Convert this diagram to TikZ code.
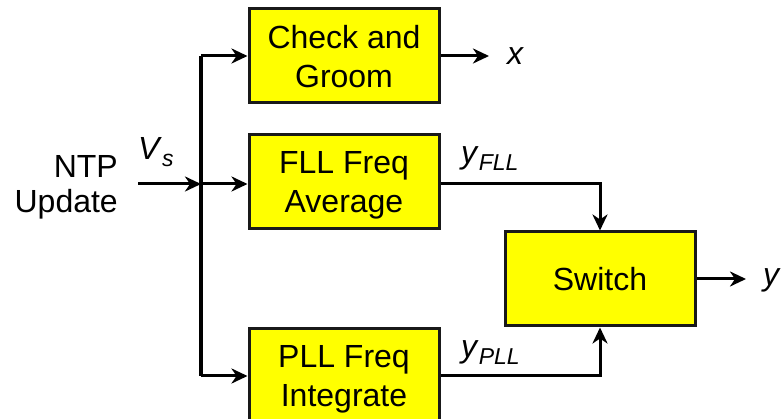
\documentclass[tikz,border=0pt]{standalone}
\usepackage{fontspec}
\setmainfont{Liberation Sans}
\usetikzlibrary{arrows.meta}

\definecolor{boxfill}{RGB}{255,255,0}
\definecolor{boxline}{RGB}{25,25,25}

\tikzset{
  block/.style={draw=boxline, fill=boxfill, line width=3pt,
    minimum width=190pt, minimum height=94pt, inner sep=0pt,
    align=center, text depth=0pt,
    font=\fontsize{32}{39}\selectfont},
  wire/.style={line width=3pt, draw=black},
  tip/.style={-{Stealth[length=16pt,width=15pt,inset=5pt]}},
  lbl/.style={font=\fontsize{32}{38}\selectfont, inner sep=0pt},
}
\newcommand{\sig}[2]{\textit{#1}\raisebox{-7pt}{\fontsize{23}{23}\selectfont\textit{#2}}}

\begin{document}
\begin{tikzpicture}[x=1pt, y=-1pt]
  \useasboundingbox (0,0) rectangle (782,419);

  % processing blocks
  \node[block] (check) at (344,56)  {Check and\\Groom};
  \node[block] (fll)   at (344,182) {FLL Freq\\Average};
  \node[block] (pll)   at (344,376) {PLL Freq\\Integrate};
  \node[block] (sw)    at (600,279) {Switch};

  % input split point and free ends
  \coordinate (in)   at (138,184);
  \coordinate (bus)  at (201,184);
  \coordinate (xout) at (489,56);
  \coordinate (yout) at (746,279);

  % input and distribution bus
  \draw[wire, tip] (in) -- (bus);
  \draw[wire, line width=3.6pt] (bus |- check.west) -- (bus |- pll.west);
  \draw[wire, tip] (bus |- check.west) -- (check.west);
  \draw[wire, tip] (bus) -- (fll.west |- bus);
  \draw[wire, tip] (bus |- pll.west) -- (pll.west);

  % outputs
  \draw[wire, tip] (check.east) -- (check.east -| xout);
  \draw[wire, tip] (fll.east |- bus) -| (sw.north);
  \draw[wire, tip] (pll.east) -| (sw.south);
  \draw[wire, tip] (sw.east) -- (sw.east -| yout);

  % labels
  \node[lbl, anchor=base east] (ntp) at (118,178) {NTP};
  \node[lbl, anchor=base east] (upd) at (118,213) {Update};
  \node[lbl, anchor=base west] (vs)  at (138,160) {\sig{V}{s}};
  \node[lbl, anchor=base west] (yf)  at (461,164) {\sig{y}{FLL}};
  \node[lbl, anchor=base west] (yp)  at (461,358) {\sig{y}{PLL}};
  \node[lbl, anchor=west] (xl)  at (507,56)  {\textit{x}};
  \node[lbl, anchor=west] (yl)  at (763,280) {\textit{y}};
\end{tikzpicture}
\end{document}
